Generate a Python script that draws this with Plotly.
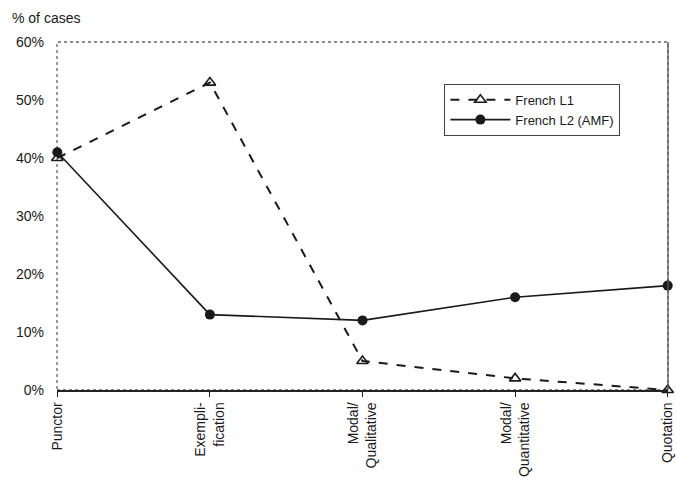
import plotly.graph_objects as go

categories = ["Punctor", "Exempli-<br>fication", "Modal/<br>Qualitative", "Modal/<br>Quantitative", "Quotation"]
french_l1 = [40, 53, 5, 2, 0]
french_l2_amf = [41, 13, 12, 16, 18]
y_ticks = [0, 10, 20, 30, 40, 50, 60]
y_tick_labels = [f"{v}%" for v in y_ticks]

FONT = "Liberation Sans, Arial, sans-serif"

fig = go.Figure()
fig.add_trace(go.Scatter(
    x=list(range(len(categories))), y=french_l1, name="French L1",
    mode="lines+markers", cliponaxis=False,
    line=dict(color="#1a1a1a", width=2, dash="dash"),
    marker=dict(symbol="triangle-up-open", size=10, color="#1a1a1a", line=dict(width=1.6)),
))
fig.add_trace(go.Scatter(
    x=list(range(len(categories))), y=french_l2_amf, name="French L2 (AMF)",
    mode="lines+markers", cliponaxis=False,
    line=dict(color="#1a1a1a", width=1.6),
    marker=dict(symbol="circle", size=10, color="#1a1a1a"),
))

# plot frame
fig.add_shape(type="rect", xref="paper", yref="paper", x0=0, y0=0, x1=1, y1=1,
              line=dict(color="#666666", width=1.3, dash="dot"), layer="below")
fig.add_shape(type="line", xref="paper", yref="paper", x0=1, y0=0, x1=1, y1=1,
              line=dict(color="#555555", width=1.3), layer="above")

fig.update_layout(
    width=676, height=483,
    margin=dict(l=57, r=8, t=42, b=93),
    paper_bgcolor="white", plot_bgcolor="white",
    font=dict(family=FONT, color="#1a1a1a", size=13),
    showlegend=True,
    legend=dict(
        x=0.634, y=0.88, xanchor="left", yanchor="top",
        bgcolor="white", bordercolor="#444444", borderwidth=1,
        font=dict(size=13, family=FONT), itemwidth=60,
        tracegroupgap=0,
    ),
    annotations=[dict(text="% of cases", xref="paper", yref="paper",
                      x=-0.077, y=1.04, xanchor="left", yanchor="bottom",
                      showarrow=False, font=dict(size=14, family=FONT))],
)
fig.update_xaxes(
    range=[-0.002, 4.002], tickmode="array", tickvals=list(range(len(categories))),
    ticktext=categories, tickangle=-90,
    showline=True, linecolor="#222222", linewidth=1.5,
    ticks="outside", ticklen=5, tickcolor="#222222",
    showgrid=False, zeroline=False, automargin=False,
    tickfont=dict(size=14, family=FONT),
)
fig.update_yaxes(
    range=[0, 60], tickmode="array", tickvals=y_ticks, ticktext=y_tick_labels,
    showline=False, showgrid=False, zeroline=False, automargin=False,
    ticks="", ticklabelstandoff=12, tickfont=dict(size=14, family=FONT),
)

fig.write_html(
    "out.html",
    config={"displayModeBar": False},
    post_script="document.body.style.margin='0';document.body.style.overflow='hidden';",
)
